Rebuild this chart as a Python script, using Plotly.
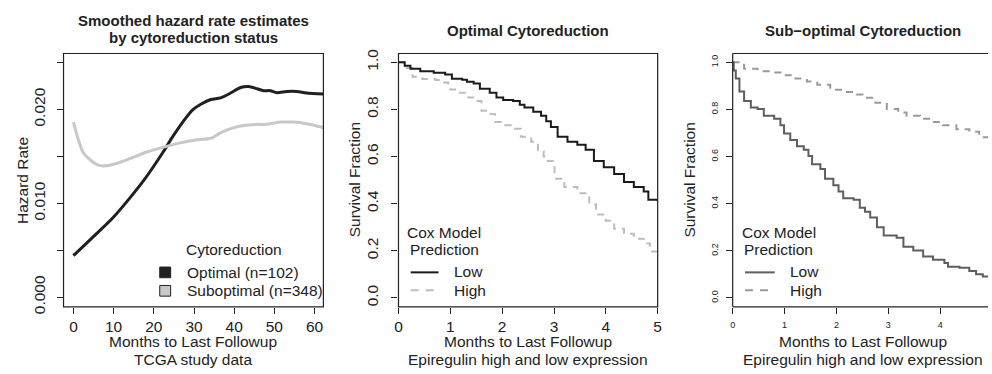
import plotly.graph_objects as go

# ---------------- data ----------------
haz_months_opt = [0, 5.76, 9.88, 14.0, 18.1, 22.2, 24.7, 27.2, 29.6, 31.7, 34.2, 36.6, 39.1,
                  41.6, 43.6, 45.7, 47.3, 49.0, 50.6, 53.1, 55.6, 58.0, 62.2]
haz_opt = [0.00442, 0.00676, 0.00848, 0.01055, 0.01279, 0.01538, 0.01710, 0.01865, 0.01993,
           0.02055, 0.02106, 0.02123, 0.02175, 0.02234, 0.02244, 0.02220, 0.02200, 0.02200,
           0.02179, 0.02192, 0.02192, 0.02175, 0.02165]
haz_months_sub = [0, 1.23, 2.47, 4.5, 6.2, 7.8, 10.7, 14.0, 18.1, 22.2, 26.3, 30.4, 34.2,
                  36.6, 39.1, 42.4, 45.7, 48.1, 51.4, 54.7, 58.0, 62.2]
haz_sub = [0.01865, 0.01675, 0.01538, 0.01451, 0.01406, 0.01399, 0.01424, 0.01476, 0.01544,
           0.01596, 0.01641, 0.01675, 0.01693, 0.01751, 0.01796, 0.01830, 0.01841, 0.01841,
           0.01865, 0.01865, 0.01848, 0.01807]

opt_low_t = [0, 0.12, 0.23, 0.42, 0.68, 0.90, 1.03, 1.23, 1.32, 1.45, 1.57, 1.76, 1.89, 2.02,
             2.21, 2.34, 2.43, 2.60, 2.75, 2.85, 2.94, 3.07, 3.26, 3.45, 3.61, 3.77, 3.96,
             4.16, 4.35, 4.54, 4.73, 4.82, 5.0]
opt_low_s = [1.0, 0.985, 0.972, 0.962, 0.955, 0.948, 0.930, 0.926, 0.917, 0.910, 0.887, 0.870,
             0.850, 0.840, 0.835, 0.820, 0.808, 0.790, 0.773, 0.750, 0.725, 0.684, 0.663,
             0.650, 0.629, 0.581, 0.554, 0.526, 0.492, 0.471, 0.451, 0.416, 0.410]
opt_high_t = [0, 0.10, 0.27, 0.46, 0.71, 0.84, 0.96, 1.16, 1.35, 1.48, 1.60, 1.73, 1.86, 1.98,
              2.17, 2.36, 2.56, 2.69, 2.80, 2.88, 3.01, 3.20, 3.45, 3.68, 3.81, 4.00, 4.16,
              4.35, 4.54, 4.73, 4.85, 5.0]
opt_high_s = [1.0, 0.975, 0.938, 0.929, 0.925, 0.914, 0.884, 0.870, 0.850, 0.835, 0.794, 0.780,
              0.746, 0.732, 0.718, 0.684, 0.663, 0.622, 0.600, 0.581, 0.506, 0.471, 0.444,
              0.396, 0.354, 0.327, 0.293, 0.272, 0.251, 0.231, 0.197, 0.188]

sub_low_t = [0, 0.02, 0.06, 0.13, 0.22, 0.35, 0.48, 0.60, 0.80, 0.92, 0.99, 1.11, 1.24, 1.37,
             1.46, 1.53, 1.69, 1.78, 1.94, 2.04, 2.13, 2.33, 2.45, 2.55, 2.65, 2.78, 2.91,
             3.16, 3.29, 3.48, 3.67, 3.86, 4.08, 4.15, 4.37, 4.56, 4.69, 4.82, 4.95]
sub_low_s = [1.0, 0.965, 0.931, 0.876, 0.835, 0.808, 0.801, 0.773, 0.760, 0.732, 0.698, 0.670,
             0.643, 0.629, 0.602, 0.567, 0.547, 0.506, 0.478, 0.451, 0.423, 0.416, 0.382,
             0.365, 0.341, 0.300, 0.265, 0.255, 0.217, 0.201, 0.176, 0.162, 0.148, 0.132,
             0.128, 0.114, 0.100, 0.091, 0.091]
sub_high_t = [0, 0.22, 0.48, 0.73, 0.92, 1.18, 1.43, 1.63, 1.88, 2.13, 2.39, 2.59, 2.75, 2.97,
              3.19, 3.35, 3.61, 3.83, 4.05, 4.31, 4.56, 4.75, 4.95]
sub_high_s = [1.0, 0.972, 0.962, 0.956, 0.945, 0.931, 0.918, 0.904, 0.883, 0.874, 0.863, 0.849,
              0.828, 0.801, 0.787, 0.773, 0.760, 0.746, 0.732, 0.716, 0.705, 0.682, 0.673]

haz_xticks = [0, 10, 20, 30, 40, 50, 60]
haz_yticks = [0.0, 0.005, 0.010, 0.015, 0.020, 0.025]
haz_ytext = ["0.000", "", "0.010", "", "0.020", ""]
surv_yticks = [0.0, 0.2, 0.4, 0.6, 0.8, 1.0]
surv_ytext = ["0.0", "0.2", "0.4", "0.6", "0.8", "1.0"]
opt_xticks = [0, 1, 2, 3, 4, 5]
sub_xticks = [0, 1, 2, 3, 4]

# ---------------- figure ----------------
W, H = 992, 374
FONT = "Liberation Sans, Arial, sans-serif"
INK = "#222222"


def px(x):
    return x / W


def py(y):
    return 1 - y / H


fig = go.Figure()
fig.add_trace(go.Scatter(x=haz_months_opt, y=haz_opt, mode="lines", xaxis="x", yaxis="y",
                         line=dict(color="#231f20", width=3, shape="spline", smoothing=0.8)))
fig.add_trace(go.Scatter(x=haz_months_sub, y=haz_sub, mode="lines", xaxis="x", yaxis="y",
                         line=dict(color="#c8c8c8", width=3, shape="spline", smoothing=0.8)))
fig.add_trace(go.Scatter(x=opt_high_t, y=opt_high_s, mode="lines", xaxis="x2", yaxis="y2",
                         line=dict(color="#bdbdbd", width=2, shape="hv", dash="7px,6px")))
fig.add_trace(go.Scatter(x=opt_low_t, y=opt_low_s, mode="lines", xaxis="x2", yaxis="y2",
                         line=dict(color="#1a1a1a", width=2, shape="hv")))
fig.add_trace(go.Scatter(x=sub_high_t, y=sub_high_s, mode="lines", xaxis="x3", yaxis="y3",
                         line=dict(color="#9a9a9a", width=2, shape="hv", dash="7px,6px")))
fig.add_trace(go.Scatter(x=sub_low_t, y=sub_low_s, mode="lines", xaxis="x3", yaxis="y3",
                         line=dict(color="#5e5e5e", width=2, shape="hv")))

common = dict(showgrid=False, zeroline=False, showline=False, ticks="outside", ticklen=6,
              tickcolor=INK, tickwidth=1, fixedrange=True)
big = dict(family=FONT, size=15.5, color=INK)
small = dict(family=FONT, size=9, color=INK)
ydom = [py(312), py(51)]

fig.update_layout(
    width=W, height=H, margin=dict(l=0, r=0, t=0, b=0), showlegend=False,
    paper_bgcolor="white", plot_bgcolor="white",
    xaxis=dict(domain=[px(60), px(322)], range=[-2.47, 62.2], tickvals=haz_xticks,
               tickfont=big, anchor="y", ticklabelstandoff=0, **common),
    yaxis=dict(domain=ydom, range=[-0.00103, 0.02596], tickvals=haz_yticks, ticktext=haz_ytext,
               tickangle=-90, tickfont=big, anchor="x", ticklabelstandoff=5, **common),
    xaxis2=dict(domain=[px(397.7), px(659)], range=[0, 5], tickvals=opt_xticks,
                tickfont=big, anchor="y2", ticklabelstandoff=0, **common),
    yaxis2=dict(domain=ydom, range=[-0.038, 1.037], tickvals=surv_yticks, ticktext=surv_ytext,
                tickangle=-90, tickfont=big, anchor="x2", ticklabelstandoff=7, **common),
    xaxis3=dict(domain=[px(734.6), 1.0], range=[0, 4.92], tickvals=sub_xticks,
                tickfont=small, anchor="y3", ticklabelstandoff=3, **common),
    yaxis3=dict(domain=ydom, range=[-0.038, 1.037], tickvals=surv_yticks, ticktext=surv_ytext,
                tickangle=-90, tickfont=small, anchor="x3", ticklabelstandoff=4, **common),
)

shapes = []
for xr, yr in (("x domain", "y domain"), ("x2 domain", "y2 domain")):
    shapes.append(dict(type="rect", xref=xr, yref=yr, x0=0, x1=1, y0=0, y1=1,
                       line=dict(color=INK, width=1.2)))
for (x0, y0, x1, y1) in ((0, 0, 1, 0), (0, 1, 1, 1), (0, 0, 0, 1)):
    shapes.append(dict(type="line", xref="x3 domain", yref="y3 domain", x0=x0, y0=y0,
                       x1=x1, y1=y1, line=dict(color=INK, width=1.2)))

# legend keys
shapes.append(dict(type="rect", xref="paper", yref="paper", x0=px(157), x1=px(168),
                   y0=py(282), y1=py(271), fillcolor="#231f20", line=dict(color=INK, width=1)))
shapes.append(dict(type="rect", xref="paper", yref="paper", x0=px(157), x1=px(168),
                   y0=py(301), y1=py(290), fillcolor="#c8c8c8", line=dict(color=INK, width=1)))
for (xa, xb, clow, chigh) in ((410, 438, "#1a1a1a", "#bdbdbd"), (747, 777, "#5e5e5e", "#9a9a9a")):
    shapes.append(dict(type="line", xref="paper", yref="paper", x0=px(xa), x1=px(xb),
                       y0=py(276.5), y1=py(276.5), line=dict(color=clow, width=2)))
    shapes.append(dict(type="line", xref="paper", yref="paper", x0=px(xa), x1=px(xb),
                       y0=py(295), y1=py(295), line=dict(color=chigh, width=2, dash="8px,7px")))
fig.update_layout(shapes=shapes)

ann = []


def text(x, y, s, font, xanchor="center", angle=0):
    ann.append(dict(x=px(x), y=py(y), xref="paper", yref="paper", text=s, showarrow=False,
                    font=font, xanchor=xanchor, yanchor="middle", textangle=angle))


bold = dict(family=FONT, size=15, color=INK, weight="bold")
text(191, 17, "<b>Smoothed hazard rate estimates</b>", bold)
text(191, 35, "<b>by cytoreduction status</b>", bold)
text(528.5, 27, "<b>Optimal Cytoreduction</b>", bold)
text(865.5, 27, "<b>Sub\u2212optimal Cytoreduction</b>", bold)

text(191, 347.5, "Months to Last Followup", big)
text(191, 366, "TCGA study data", big)
text(528.5, 347.5, "Months to Last Followup", big)
text(528.5, 366, "Epiregulin high and low expression", big)
text(865.5, 347.5, "Months to Last Followup", big)
text(865.5, 366, "Epiregulin high and low expression", big)

text(18, 181.5, "Hazard Rate", big, angle=-90)
text(353, 181.5, "Survival Fraction", big, angle=-90)
text(691, 181.5, "Survival Fraction", big, angle=-90)

text(232, 253, "Cytoreduction", big)
text(182, 276.5, "Optimal (n=102)", big, xanchor="left")
text(182, 295.5, "Suboptimal (n=348)", big, xanchor="left")

for cx, tx in ((444, 452), (781, 790)):
    text(cx, 235, "Cox Model", big)
    text(cx, 253, "Prediction", big)
    text(tx, 276, "Low", big, xanchor="left")
    text(tx, 295, "High", big, xanchor="left")

fig.update_layout(annotations=ann)
fig.write_html("out.html", config={"displayModeBar": False},
               post_script="document.body.style.margin='0';document.body.style.overflow='hidden';")
